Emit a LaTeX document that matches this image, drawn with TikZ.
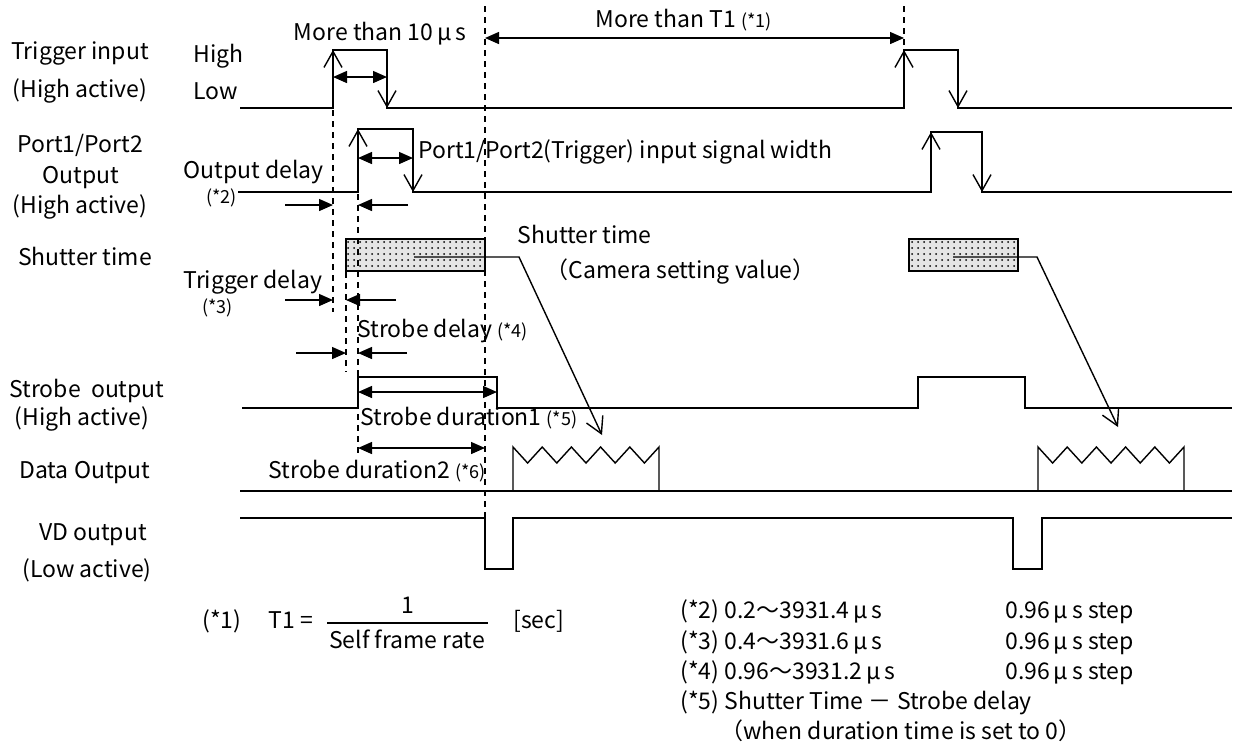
\documentclass[tikz,border=0pt]{standalone}
\usepackage{fontspec}
\setmainfont{Noto Sans CJK JP}
\usepackage{tikz}
\usetikzlibrary{arrows.meta,patterns}
\tikzstyle{timing} = [x = 0.5pt, y = -0.5pt]
\tikzstyle{signalLine} = [line width = 0.9pt]
\tikzstyle{thinLine} = [line width = 0.7pt]
\tikzstyle{guideLine} = [line width = 0.8pt, dash pattern = on 3pt off 2.5pt]
\tikzstyle{edgeArrow} = [thinLine, -{Straight Barb[length = 8pt, width = 9pt]}]
\tikzstyle{spanArrow} = [thinLine, {Triangle[length = 7pt, width = 6pt]}-{Triangle[length = 7pt, width = 6pt]}]
\tikzstyle{delayArrow} = [thinLine, -{Triangle[length = 7pt, width = 6pt]}]
\tikzstyle{shutterFill} = [draw, thinLine, fill = black!10, postaction = {pattern = dots, pattern color = black}]
\tikzstyle{sigText} = [font = \fontsize{11.5}{13}\selectfont, inner sep = 0pt]
\tikzstyle{listText} = [font = \fontsize{11.5}{14}\selectfont, inner sep = 0pt]
\newcommand{\noteFont}{\fontsize{9}{11}\selectfont}
\newcommand{\arrowPulse}[4]{
  \draw [edgeArrow] (#1, #3) -- (#1, #4);
  \draw [edgeArrow] (#2, #4) -- (#2, #3);
}
\newcommand{\dataPacket}[1]{
  \draw [thinLine] (#1, 491) -- (#1, 447)
    \foreach \k in {1,...,10} {
      -- ({#1 + \k * 14.6}, {447 + 16 * mod(\k, 2)})
    } -- ({#1 + 146}, 491);
}
\newcommand{\shutterBox}[2]{\draw [shutterFill] (#1, 239) rectangle (#2, 271);}
\newcommand{\leaderArrow}[3]{\draw [edgeArrow] (#1, 257) -- (#2, 257) -- #3;}

\begin{document}
\begin{tikzpicture}[timing]
  \useasboundingbox (0, 0) rectangle (1240, 746);

  \draw [signalLine] (240, 108) -- (333, 108) -- (333, 50) -- (387, 50) -- (387, 108)
    -- (904, 108) -- (904, 50) -- (958, 50) -- (958, 108) -- (1232, 108);
  \arrowPulse{333}{387}{108}{50}
  \arrowPulse{904}{958}{108}{50}

  \draw [signalLine] (238, 192) -- (358, 192) -- (358, 129) -- (413, 129) -- (413, 192)
    -- (931, 192) -- (931, 132) -- (982, 132) -- (982, 192) -- (1232, 192);
  \arrowPulse{358}{413}{192}{129}
  \arrowPulse{931}{982}{192}{132}

  \shutterBox{346}{485}
  \shutterBox{909}{1018}

  \draw [signalLine] (242, 408) -- (358, 408) -- (358, 377) -- (497, 377) -- (497, 408)
    -- (918, 408) -- (918, 377) -- (1025, 377) -- (1025, 408) -- (1232, 408);

  \draw [signalLine] (240, 491) -- (1232, 491);
  \dataPacket{513}
  \dataPacket{1038}

  \draw [thinLine] (240, 518) -- (485, 518) -- (485, 569) -- (513, 569) -- (513, 518)
    -- (1013, 518) -- (1013, 569) -- (1042, 569) -- (1042, 518) -- (1232, 518);

  \leaderArrow{414}{519}{(602, 435)}
  \leaderArrow{953}{1037}{(1118, 427)}

  \draw [guideLine] (333, 110) -- (333, 312);
  \draw [guideLine] (358, 194) -- (358, 455);
  \draw [guideLine] (346, 272) -- (346, 372);
  \draw [guideLine] (485, 6) -- (485, 518);
  \draw [guideLine] (904, 6) -- (904, 50);

  \draw [spanArrow] (333, 77) -- (387, 77);
  \draw [spanArrow] (485, 38) -- (904, 38);
  \draw [spanArrow] (358, 158) -- (413, 158);
  \draw [spanArrow] (358, 392) -- (497, 392);
  \draw [spanArrow] (358, 448) -- (485, 448);
  \draw [delayArrow] (285, 205) -- (333, 205);
  \draw [delayArrow] (408, 205) -- (358, 205);
  \draw [delayArrow] (285, 300) -- (333, 300);
  \draw [delayArrow] (396, 300) -- (346, 300);
  \draw [delayArrow] (296, 353) -- (346, 353);
  \draw [delayArrow] (407, 353) -- (358, 353);

  \node [sigText, anchor = base] (trigName) at (80, 59) {Trigger input};
  \node [sigText, anchor = base] (trigActive) at (80, 97) {(High active)};
  \node [sigText, anchor = base west] (highLevel) at (193, 62) {High};
  \node [sigText, anchor = base west] (lowLevel) at (193, 99) {Low};
  \node [sigText, anchor = base] (minWidth) at (380, 40) {More than 10\,μ\,s};
  \node [sigText, anchor = base west] (minPeriod) at (595, 27) {More than T1 {\noteFont(*1)}};
  \node [sigText, anchor = base] (portName) at (80, 152) {Port1/Port2};
  \node [sigText, anchor = base] (portOut) at (81, 183) {Output};
  \node [sigText, anchor = base] (portActive) at (80, 213) {(High active)};
  \node [sigText, anchor = base west] (outDelay) at (183, 178) {Output delay};
  \node [sigText, anchor = base west, font = \noteFont] (noteTwo) at (206, 203) {(*2)};
  \node [sigText, anchor = base west] (portWidth) at (418, 158) {Port1/Port2(Trigger) input signal width};
  \node [sigText, anchor = base] (shutterName) at (85, 265) {Shutter time};
  \node [sigText, anchor = base west] (trigDelay) at (183, 288) {Trigger delay};
  \node [sigText, anchor = base west, font = \noteFont] (noteThree) at (202, 313) {(*3)};
  \node [sigText, anchor = base west] (strobeDelay) at (357, 337) {Strobe delay {\noteFont(*4)}};
  \node [sigText, anchor = base] (strobeName) at (87, 397) {Strobe\ \ output};
  \node [sigText, anchor = base] (strobeActive) at (82, 425) {(High active)};
  \node [sigText, anchor = base west] (durOne) at (360, 425) {Strobe duration1 {\noteFont(*5)}};
  \node [sigText, anchor = base] (dataName) at (85, 478) {Data Output};
  \node [sigText, anchor = base east] (durTwo) at (486, 478) {Strobe duration2 {\noteFont(*6)}};
  \node [sigText, anchor = base] (vdName) at (93, 540) {VD output};
  \node [sigText, anchor = base] (vdActive) at (87, 577) {(Low active)};
  \node [sigText, anchor = base west] (shutterNote) at (517, 243) {Shutter time};
  \node [sigText, anchor = base west] (cameraValue) at (545, 278) {（Camera setting value）};

  \node [listText, anchor = base west] (noteOne) at (202, 628) {(*1)};
  \node [listText, anchor = base west] (tOne) at (268, 628) {T1 =};
  \node [listText, anchor = base] (fracNum) at (408, 613) {1};
  \node [listText, anchor = base] (fracDen) at (407, 648) {Self frame rate};
  \draw [thinLine] (327, 623) -- (488, 623);
  \node [listText, anchor = base west] (secUnit) at (513, 628) {[sec]};

  \foreach \row/\range/\lineY in {2/0.2～3931.4/618, 3/0.4～3931.6/649, 4/0.96～3931.2/679} {
    \node [listText, anchor = base west] (range\row) at (680, \lineY) {(*\row) \range\,μ\,s};
    \node [listText, anchor = base west] (step\row) at (1005, \lineY) {0.96\,μ\,s step};
  }
  \node [listText, anchor = base west] (noteFive) at (680, 709) {(*5) Shutter Time － Strobe delay};
  \node [listText, anchor = base west] (noteFiveB) at (720, 739) {（when duration time is set to 0）};
\end{tikzpicture}
\end{document}
